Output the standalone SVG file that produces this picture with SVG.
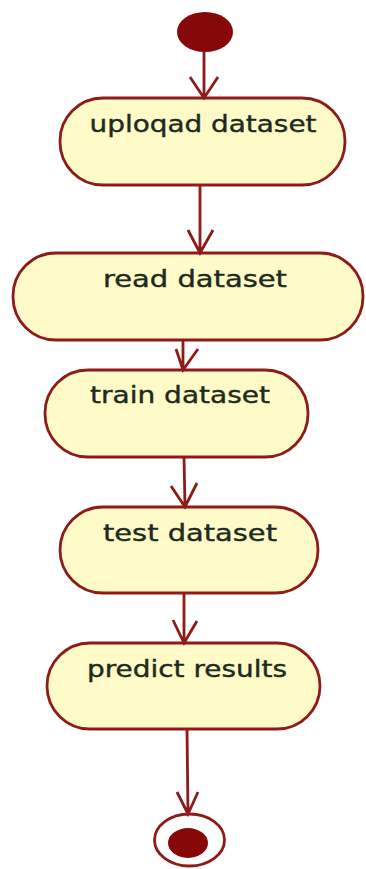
<svg xmlns="http://www.w3.org/2000/svg" width="366" height="869" viewBox="0 0 366 869">
<style>
.act{fill:#FFFBC8;stroke:#8E1A1A;stroke-width:2.8}
.lbl{font-family:"DejaVu Sans",Verdana,sans-serif;font-size:23px;fill:#1E2A1E;stroke:#1E2A1E;stroke-width:0.4;text-anchor:middle}
.edge{fill:none;stroke:#8E1A1A;stroke-width:2.8}
.dot{fill:#870808}
</style>
<rect width="366" height="869" fill="#FFFFFF"/>
<g id="start"><ellipse class="dot" cx="205" cy="32" rx="28" ry="20"/></g>
<g id="upload"><rect class="act" x="60" y="98" width="285" height="87" rx="43" ry="43"/><text class="lbl" x="203" y="132" textLength="227" lengthAdjust="spacingAndGlyphs">uploqad dataset</text></g>
<g id="read"><rect class="act" x="13" y="253" width="350" height="87" rx="43" ry="43"/><text class="lbl" x="195" y="287" textLength="184" lengthAdjust="spacingAndGlyphs">read dataset</text></g>
<g id="train"><rect class="act" x="45" y="370" width="263" height="87" rx="43" ry="43"/><text class="lbl" x="180" y="403" textLength="180" lengthAdjust="spacingAndGlyphs">train dataset</text></g>
<g id="test"><rect class="act" x="60" y="507" width="258" height="86" rx="43" ry="43"/><text class="lbl" x="190" y="541" textLength="174" lengthAdjust="spacingAndGlyphs">test dataset</text></g>
<g id="predict"><rect class="act" x="47" y="643" width="273" height="86" rx="43" ry="43"/><text class="lbl" x="187" y="677" textLength="200" lengthAdjust="spacingAndGlyphs">predict results</text></g>
<g id="end"><ellipse cx="189.5" cy="840" rx="35" ry="26" fill="#FFFFFF" stroke="#8E1A1A" stroke-width="2.8"/><ellipse class="dot" cx="188" cy="843" rx="20" ry="15"/></g>
<g id="connectors">
<path class="edge" d="M204 52 L204 98 M190 77 L204 98 L218 77"/>
<path class="edge" d="M200 185 L200 253 M188 230 L200 253 L213 230"/>
<path class="edge" d="M183 340 L183 370 M176 349 L183 370 L198 349"/>
<path class="edge" d="M184 457 L185 507 M171 486 L185 507 L197 483"/>
<path class="edge" d="M184 593 L184 643 M173 620 L184 643 L197 621"/>
<path class="edge" d="M187 729 L188 814 M177 792 L188 814 L198 792"/>
</g>
</svg>
